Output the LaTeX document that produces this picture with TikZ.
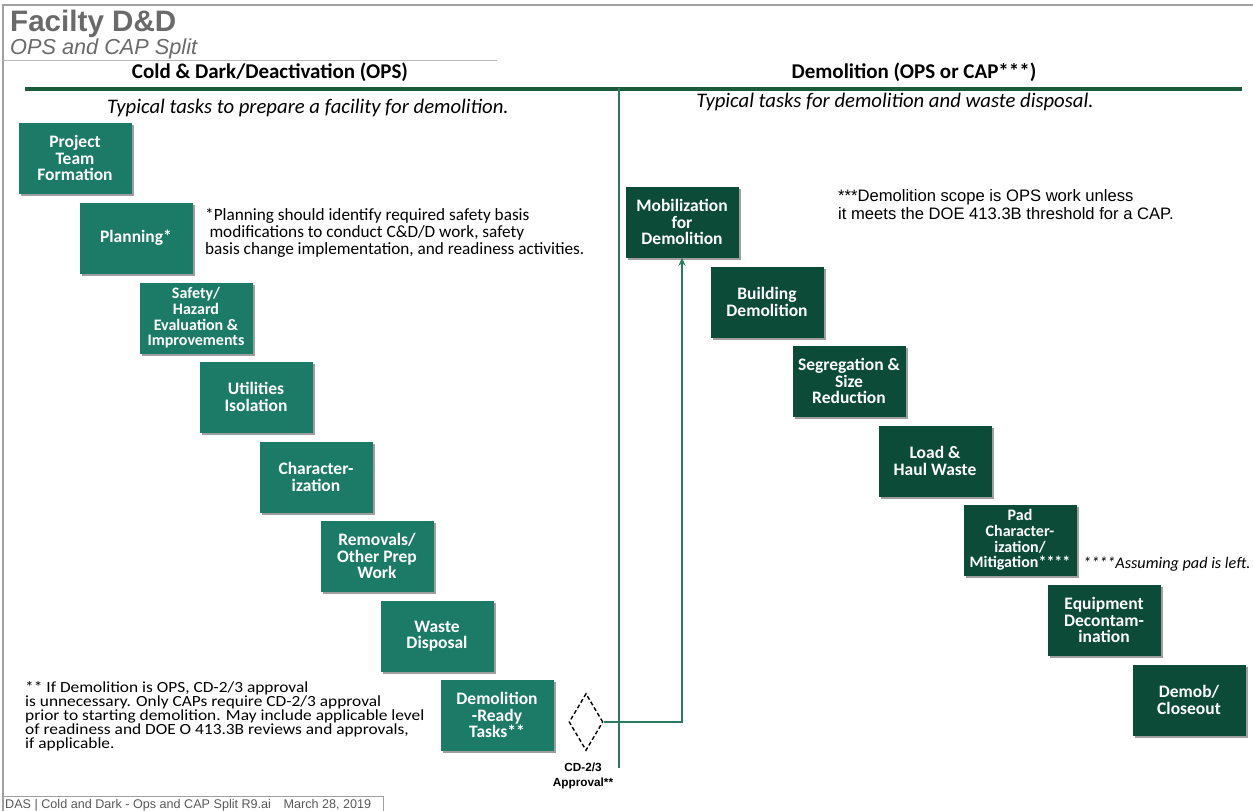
\documentclass[tikz,border=0pt]{standalone}
\usepackage{fontspec}
\setmainfont{Carlito}
\newfontfamily\arialfont{Liberation Sans}
\newfontfamily\widefont[FakeStretch=1.12]{Carlito}
\usetikzlibrary{shapes.geometric,arrows.meta,shadows}

\definecolor{opsteal}{HTML}{1B7B67}
\definecolor{demogreen}{HTML}{0C4B37}
\definecolor{rulegreen}{HTML}{1D5B3D}
\definecolor{linkgreen}{HTML}{2A7B5E}
\definecolor{titlegray}{HTML}{6A6A6A}
\definecolor{framegray}{HTML}{A0A0A0}

\tikzset{
  taskbox/.style={rectangle, minimum width=113pt, minimum height=71pt, inner sep=1pt,
    align=center, text=white, font=\bfseries\fontsize{17.5}{16.5}\selectfont,
    drop shadow={shadow xshift=2.5pt, shadow yshift=-2.5pt, opacity=0.5, fill=black!75}},
  opsbox/.style={taskbox, fill=opsteal},
  demobox/.style={taskbox, fill=demogreen},
  tightbox/.style={font=\bfseries\fontsize{16}{15.6}\selectfont},
  note/.style={align=left, inner sep=0pt, anchor=base west},
  link/.style={draw=linkgreen, line width=1.6pt},
}

\begin{document}
\begin{tikzpicture}[x=1pt, y=-1pt]
\useasboundingbox (0,0) rectangle (1253,811);

% page frame and rules
\draw[framegray, line width=1.5pt] (3,811) -- (3,5) -- (1253,5);
\draw[gray!55, line width=0.8pt] (3,60) -- (497,60);
\draw[rulegreen, line width=3.5pt] (25,89) -- (1242,89);
\draw[linkgreen, line width=2.2pt] (619,88) -- (619,768);

% titles
\node[note, font=\arialfont\bfseries\fontsize{29.6}{30}\selectfont, text=titlegray] (title) at (10,31) {Facilty D\&D};
\node[note, font=\arialfont\itshape\fontsize{21.7}{22}\selectfont, text=titlegray] (subtitle) at (10,54) {OPS and CAP Split};

% column headings
\node[anchor=base, inner sep=0pt, font=\bfseries\fontsize{21}{21}\selectfont] (hops) at (270,78.5) {Cold \& Dark/Deactivation (OPS)};
\node[anchor=base, inner sep=0pt, font=\bfseries\fontsize{21}{21}\selectfont] (hdemo) at (914,78.5) {Demolition (OPS or CAP***)};
\node[anchor=base, inner sep=0pt, font=\itshape\fontsize{20.7}{21}\selectfont] (sops) at (308,113) {Typical tasks to prepare a facility for demolition.};
\node[anchor=base, inner sep=0pt, font=\itshape\fontsize{20.7}{21}\selectfont] (sdemo) at (895,107) {Typical tasks for demolition and waste disposal.};

% deactivation tasks
\node[opsbox] (ptf)  at (75,158)  {Project\\Team\\Formation};
\node[opsbox] (plan) at (136,238) {Planning*};
\node[opsbox, tightbox] (safe) at (196,318) {Safety/\\Hazard\\Evaluation \&\\Improvements};
\node[opsbox] (util) at (256,397) {Utilities\\Isolation};
\node[opsbox] (char) at (316,477) {Character-\\ization};
\node[opsbox] (remv) at (377,556) {Removals/\\Other Prep\\Work};
\node[opsbox] (wast) at (437,636) {Waste\\Disposal};
\node[opsbox] (ready) at (497,715) {Demolition\\-Ready\\Tasks**};

% approval gate
\node[diamond, draw=black, dash pattern=on 4pt off 2.5pt, line width=1.4pt, minimum width=34pt, minimum height=57pt, inner sep=0pt] (gate) at (586,722) {};
\node[anchor=base, align=center, inner sep=0pt, font=\arialfont\bfseries\fontsize{11.8}{15}\selectfont] (gatelbl) at (583,786) {CD-2/3\\Approval**};

% demolition tasks
\node[demobox] (mob)  at (682,222) {Mobilization\\for\\Demolition};
\node[demobox] (bld)  at (767,302) {Building\\Demolition};
\node[demobox] (seg)  at (849,381) {Segregation \&\\Size\\Reduction};
\node[demobox] (haul) at (935,461) {Load \&\\Haul Waste};
\node[demobox, tightbox] (pad)  at (1020,540) {Pad\\Character-\\ization/\\Mitigation****};
\node[demobox] (equip) at (1104,620) {Equipment\\Decontam-\\ination};
\node[demobox] (close) at (1189,700) {Demob/\\Closeout};

% gate to mobilization
\draw[link, -{Stealth[length=8pt, width=7pt]}] (gate.east) -| (mob.south);

% notes (anchored at the baseline of their last line)
\node[note, font=\fontsize{17.2}{17}\selectfont] (plannote) at (205,254)
  {*Planning should identify required safety basis\\
   \hspace{0.25em}modifications to conduct C\&D/D work, safety\\
   basis change implementation, and readiness activities.};
\node[note, font=\arialfont\fontsize{16.6}{18}\selectfont] (scopenote) at (838,219)
  {***Demolition scope is OPS work unless\\
   it meets the DOE 413.3B threshold for a CAP.};
\node[note, font=\itshape\fontsize{16.2}{16.5}\selectfont] (padnote) at (1083,568) {****Assuming pad is left.};
\node[note, font=\widefont\fontsize{15.5}{14}\selectfont] (cdnote) at (25,748)
  {** If Demolition is OPS, CD-2/3 approval\\
   is unnecessary. Only CAPs require CD-2/3 approval\\
   prior to starting demolition. May include applicable level\\
   of readiness and DOE O 413.3B reviews and approvals,\\
   if applicable.};

% footer
\draw[framegray, line width=0.8pt] (3,796) -- (383,796) -- (383,811);
\node[note, font=\arialfont\fontsize{12.6}{12.6}\selectfont, text=black!65] (footer) at (5,808)
  {DAS | Cold and Dark - Ops and CAP Split R9.ai\quad March 28, 2019};
\end{tikzpicture}
\end{document}
